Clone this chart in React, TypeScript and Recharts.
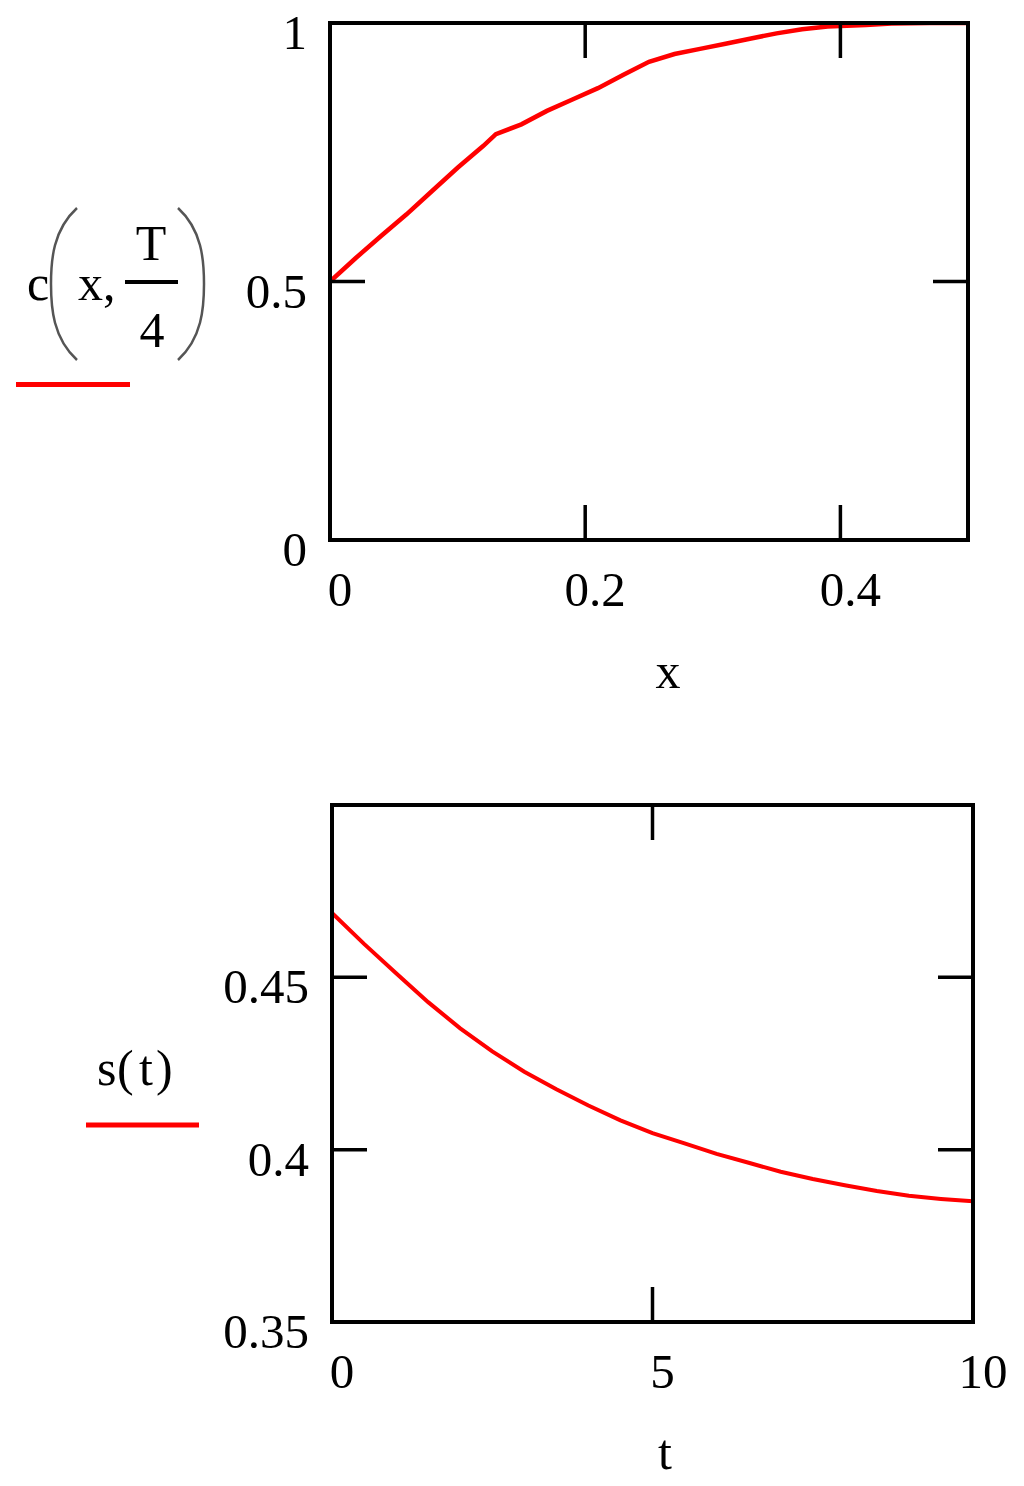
import React from "react";
import { LineChart, Line, XAxis, YAxis } from "recharts";

// ---- data: top chart c(x, T/4) ----
const cX = [0, 0.02, 0.04, 0.06, 0.08, 0.1, 0.12, 0.13, 0.15, 0.17, 0.19, 0.21, 0.23, 0.25, 0.27, 0.29, 0.31, 0.33, 0.35, 0.37, 0.39, 0.42, 0.44, 0.47, 0.5];
const cVals = [0.5, 0.545, 0.588, 0.63, 0.675, 0.72, 0.762, 0.785, 0.804, 0.83, 0.852, 0.874, 0.9, 0.925, 0.94, 0.95, 0.96, 0.97, 0.98, 0.988, 0.993, 0.996, 0.999, 1.0, 1.0];
const cXTicks = [0, 0.2, 0.4];
const cXTickLabels = ["0", "0.2", "0.4"];
const cYTicks = [0, 0.5, 1];
const cYTickLabels = ["0", "0.5", "1"];

// ---- data: bottom chart s(t) ----
const sT = [0, 0.5, 1, 1.5, 2, 2.5, 3, 3.5, 4, 4.5, 5, 5.5, 6, 6.5, 7, 7.5, 8, 8.5, 9, 9.5, 10];
const sVals = [0.4687, 0.4597, 0.4512, 0.4428, 0.4352, 0.4285, 0.4226, 0.4175, 0.4128, 0.4085, 0.4048, 0.4018, 0.3988, 0.3962, 0.3936, 0.3915, 0.3897, 0.388, 0.3866, 0.3857, 0.385];
const sXTicks = [0, 5, 10];
const sXTickLabels = ["0", "5", "10"];
const sYTicks = [0.35, 0.4, 0.45];
const sYTickLabels = ["0.35", "0.4", "0.45"];

const FONT = "'Liberation Serif', 'Times New Roman', serif";
const FS = 49;
const TICK_LEN = 35;
const RED = "#ff0000";

type PlotProps = {
  data: { x: number; y: number }[];
  xDomain: [number, number];
  yDomain: [number, number];
  xTicks: number[];
  xLabels: string[];
  yTicks: number[];
  yLabels: string[];
  width: number;
  height: number;
  margin: { top: number; right: number; bottom: number; left: number };
  lineWidth: number;
};

const axisLine = { stroke: "#000", strokeWidth: 4, strokeLinecap: "square" as const };

function Plot(p: PlotProps) {
  const isEdge = (v: number, d: [number, number]) => Math.abs(v - d[0]) < 1e-9 || Math.abs(v - d[1]) < 1e-9;
  const labelFor = (v: number, ticks: number[], labels: string[]) => {
    const i = ticks.findIndex((t) => Math.abs(t - v) < 1e-9);
    return i >= 0 ? labels[i] : "";
  };

  const BottomTick = (props: any) => {
    const { x, y, payload } = props;
    const v = payload.value;
    return (
      <g>
        {!isEdge(v, p.xDomain) && <line x1={x} y1={y} x2={x} y2={y - TICK_LEN} stroke="#000" strokeWidth={3.5} />}
        <text x={x + 10} y={y + 66} textAnchor="middle" fontFamily={FONT} fontSize={FS} fill="#000">
          {labelFor(v, p.xTicks, p.xLabels)}
        </text>
      </g>
    );
  };
  const TopTick = (props: any) => {
    const { x, y, payload } = props;
    const v = payload.value;
    if (isEdge(v, p.xDomain)) return <g />;
    return <line x1={x} y1={y} x2={x} y2={y + TICK_LEN} stroke="#000" strokeWidth={3.5} />;
  };
  const LeftTick = (props: any) => {
    const { x, y, payload } = props;
    const v = payload.value;
    return (
      <g>
        {!isEdge(v, p.yDomain) && <line x1={x} y1={y} x2={x + TICK_LEN} y2={y} stroke="#000" strokeWidth={3.5} />}
        <text x={x - 23} y={y + 26} textAnchor="end" fontFamily={FONT} fontSize={FS} fill="#000">
          {labelFor(v, p.yTicks, p.yLabels)}
        </text>
      </g>
    );
  };
  const RightTick = (props: any) => {
    const { x, y, payload } = props;
    const v = payload.value;
    if (isEdge(v, p.yDomain)) return <g />;
    return <line x1={x} y1={y} x2={x - TICK_LEN} y2={y} stroke="#000" strokeWidth={3.5} />;
  };

  return (
    <LineChart width={p.width} height={p.height} data={p.data} margin={p.margin}>
      <XAxis
        xAxisId="bottom"
        dataKey="x"
        type="number"
        domain={p.xDomain}
        allowDataOverflow
        ticks={p.xTicks}
        interval={0}
        height={1}
        tickSize={0}
        tickMargin={0}
        tickLine={false}
        axisLine={axisLine}
        tick={BottomTick}
      />
      <XAxis
        xAxisId="top"
        orientation="top"
        dataKey="x"
        type="number"
        domain={p.xDomain}
        allowDataOverflow
        ticks={p.xTicks}
        interval={0}
        height={1}
        tickSize={0}
        tickMargin={0}
        tickLine={false}
        axisLine={axisLine}
        tick={TopTick}
      />
      <YAxis
        yAxisId="left"
        type="number"
        domain={p.yDomain}
        allowDataOverflow
        ticks={p.yTicks}
        interval={0}
        width={1}
        tickSize={0}
        tickMargin={0}
        tickLine={false}
        axisLine={axisLine}
        tick={LeftTick}
      />
      <YAxis
        yAxisId="right"
        orientation="right"
        type="number"
        domain={p.yDomain}
        allowDataOverflow
        ticks={p.yTicks}
        interval={0}
        width={1}
        tickSize={0}
        tickMargin={0}
        tickLine={false}
        axisLine={axisLine}
        tick={RightTick}
      />
      <Line
        xAxisId="bottom"
        yAxisId="left"
        dataKey="y"
        type="linear"
        stroke={RED}
        strokeWidth={p.lineWidth}
        dot={false}
        activeDot={false}
        isAnimationActive={false}
      />
    </LineChart>
  );
}

const topData = cX.map((x, i) => ({ x, y: cVals[i] }));
const bottomData = sT.map((x, i) => ({ x, y: sVals[i] }));

export default function App() {
  return (
    <div style={{ position: "absolute", left: 0, top: 0, width: 1024, height: 1486, background: "#fff", overflow: "hidden" }}>
      <div style={{ position: "absolute", left: 0, top: 0 }}>
        <Plot
          data={topData}
          xDomain={[0, 0.5]}
          yDomain={[0, 1]}
          xTicks={cXTicks}
          xLabels={cXTickLabels}
          yTicks={cYTicks}
          yLabels={cYTickLabels}
          width={1024}
          height={760}
          margin={{ top: 22, right: 55, bottom: 219, left: 329 }}
          lineWidth={4.5}
        />
      </div>
      <div style={{ position: "absolute", left: 0, top: 760 }}>
        <Plot
          data={bottomData}
          xDomain={[0, 10]}
          yDomain={[0.35, 0.5]}
          xTicks={sXTicks}
          xLabels={sXTickLabels}
          yTicks={sYTicks}
          yLabels={sYTickLabels}
          width={1024}
          height={726}
          margin={{ top: 44, right: 50, bottom: 163, left: 331 }}
          lineWidth={4}
        />
      </div>
      <svg width={1024} height={1486} style={{ position: "absolute", left: 0, top: 0, pointerEvents: "none" }}>
        <g fontFamily={FONT} fontSize={50} fill="#000">
          {/* c(x, T/4) */}
          <text x={27} y={300}>c</text>
          <path d="M 77 208 C 53 230, 51 260, 51 284 C 51 308, 53 338, 77 360" fill="none" stroke="#555" strokeWidth={2.5} />
          <text x={78} y={300}>x,</text>
          <rect x={125} y={280} width={53} height={4} fill="#000" />
          <text x={151} y={260} textAnchor="middle">T</text>
          <text x={152} y={347} textAnchor="middle">4</text>
          <path d="M 178 208 C 202 230, 204 260, 204 284 C 204 308, 202 338, 178 360" fill="none" stroke="#555" strokeWidth={2.5} />
          <line x1={16} y1={384.5} x2={130} y2={384.5} stroke={RED} strokeWidth={5} />
          <text x={668} y={688} textAnchor="middle">x</text>

          {/* s(t) */}
          <text x={97} y={1085}>s</text>
          <text x={117} y={1085}>(</text>
          <text x={139} y={1085}>t</text>
          <text x={156} y={1085}>)</text>
          <line x1={86} y1={1125} x2={199} y2={1125} stroke={RED} strokeWidth={5} />
          <text x={665} y={1469} textAnchor="middle">t</text>
        </g>
      </svg>
    </div>
  );
}
